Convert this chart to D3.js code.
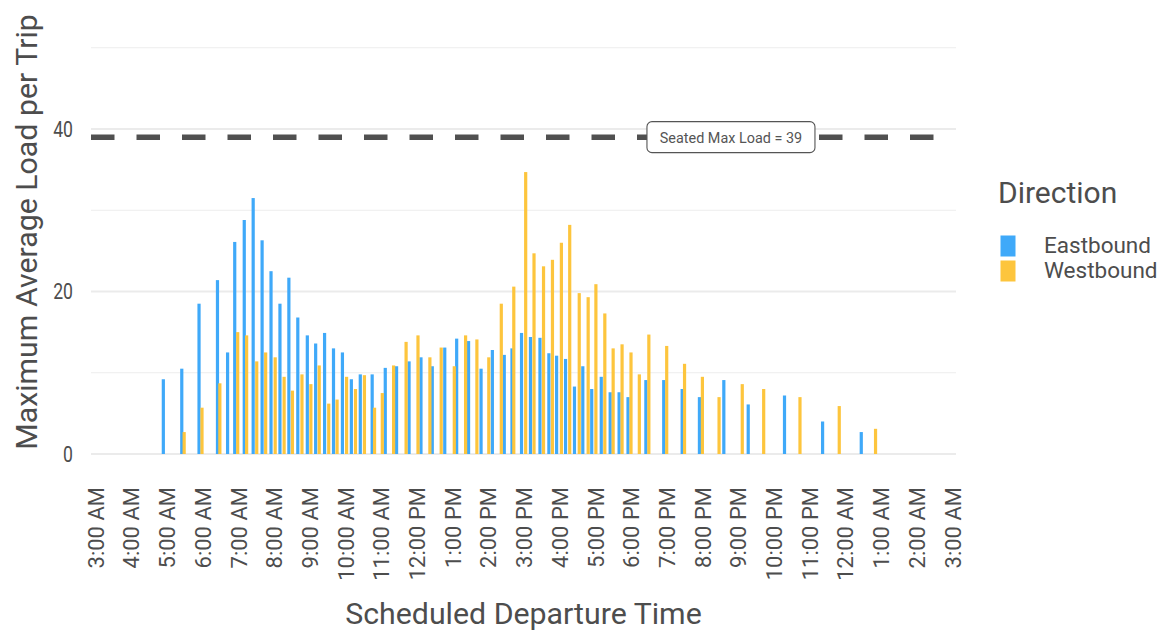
<!DOCTYPE html>
<html lang="en">
<head>
<meta charset="UTF-8">
<title>Maximum Average Load per Trip</title>
<script src="https://d3js.org/d3.v7.min.js"></script>
<style>
    body { margin: 0; background: #fff; font-family: Roboto, "Noto Sans", sans-serif; }
    .tick text { fill: #4d4d4d; }
</style>
</head>
<body>
<svg id="chart" width="1169" height="631"></svg>
<script>
    // departure times (24h, after midnight counts as next day) and max loads
    const eastTimes = ["04:54","05:25","05:54","06:25","06:42","06:54","07:10","07:25","07:40","07:55",
        "08:10","08:25","08:40","08:56","09:10","09:25","09:40","09:55","10:10","10:25",
        "10:45","11:07","11:26","11:47","12:07","12:26","12:47","13:07","13:27","13:48",
        "14:07","14:27","14:40","14:56","15:11","15:27","15:42","15:55","16:10","16:25",
        "16:39","16:54","17:10","17:25","17:40","17:55","18:25","18:55","19:26","19:55",
        "20:36","21:17","22:18","23:22","00:27"];
    const eastLoads = [9.2,10.5,18.5,21.4,12.5,26.1,28.8,31.5,26.3,22.5,
        18.5,21.7,16.8,14.6,13.6,14.9,13.0,12.5,9.2,9.8,
        9.8,10.6,10.8,11.4,11.9,10.8,13.1,14.2,13.9,10.5,
        12.8,12.2,13.0,14.9,14.4,14.3,12.4,12.1,11.7,8.3,
        10.8,8.0,9.5,7.6,7.6,7.0,9.1,9.1,8.0,7.0,
        9.1,6.1,7.2,4.0,2.7];

    const westTimes = ["05:29","05:59","06:29","06:59","07:14","07:31","07:46","08:02","08:17","08:31",
        "08:47","09:02","09:16","09:32","09:46","10:02","10:17","10:32","10:49","11:02",
        "11:21","11:42","12:02","12:22","12:41","13:03","13:22","13:41","14:01","14:22",
        "14:43","15:03","15:17","15:33","15:48","16:03","16:17","16:33","16:48","17:01",
        "17:16","17:30","17:45","18:00","18:14","18:30","19:00","19:30","20:00","20:28",
        "21:07","21:43","22:44","23:50","00:51"];
    const westLoads = [2.7,5.7,8.7,15.0,14.6,11.4,12.5,11.9,9.5,7.8,
        9.8,8.6,10.9,6.2,6.7,9.5,8.0,9.7,5.7,7.5,
        10.9,13.8,14.6,11.9,13.1,10.8,14.6,14.1,11.9,18.5,
        20.6,34.7,24.7,23.1,23.9,26.0,28.2,19.8,19.3,20.9,
        17.3,13.0,13.5,12.5,9.8,14.7,13.3,11.1,9.5,7.0,
        8.6,8.0,7.0,5.9,3.1];

    const directions = ["Eastbound", "Westbound"];
    const colors = ["#3fa9f9", "#fdc53d"];
    const yTicks = [0, 20, 40];
    const yMinor = [10, 30, 50];
    const seatedMax = 39;
    const labelTime = "20:48";

    const svg = d3.select("#chart");
    const parse = d3.timeParse("%H:%M");
    const toDate = s => {
        const d = parse(s);
        if (d.getHours() < 3) d.setDate(d.getDate() + 1);
        return d;
    };

    // the reference font is a narrow Roboto, so squeeze some text a bit
    function squeeze(sel, k) {
        sel.each(function () {
            const len = this.getComputedTextLength();
            d3.select(this).attr("textLength", len * k).attr("lengthAdjust", "spacingAndGlyphs");
        });
    }

    const start = parse("03:00");
    const end = d3.timeDay.offset(start, 1);
    const panel = {left: 91, right: 956};

    const x = d3.scaleTime().domain([start, end]).range([95.5, 952.3]);
    const y = d3.scaleLinear().domain([0, 40]).range([454, 129]);
    const color = d3.scaleOrdinal().domain(directions).range(colors);

    const data = [];
    eastTimes.forEach((t, i) => data.push({dir: "Eastbound", time: toDate(t), load: eastLoads[i]}));
    westTimes.forEach((t, i) => data.push({dir: "Westbound", time: toDate(t), load: westLoads[i]}));

    // grid
    svg.append("g").selectAll("line").data(yMinor).join("line")
        .attr("x1", panel.left).attr("x2", panel.right)
        .attr("y1", d => y(d)).attr("y2", d => y(d))
        .attr("stroke", "#ededed").attr("stroke-width", 1.1);
    svg.append("g").selectAll("line").data(yTicks).join("line")
        .attr("x1", panel.left).attr("x2", panel.right)
        .attr("y1", d => y(d)).attr("y2", d => y(d))
        .attr("stroke", "#ebebeb").attr("stroke-width", 2.2);

    // bars
    const barW = 3.2;
    svg.append("g").selectAll("rect").data(data).join("rect")
        .attr("x", d => x(d.time) - barW / 2)
        .attr("width", barW)
        .attr("y", d => y(d.load))
        .attr("height", d => y(0) - y(d.load))
        .attr("fill", d => color(d.dir));

    // seated max line
    svg.append("line")
        .attr("x1", panel.left).attr("x2", 940)
        .attr("y1", y(seatedMax)).attr("y2", y(seatedMax))
        .attr("stroke", "#505050").attr("stroke-width", 5.5)
        .attr("stroke-dasharray", "23.5 22");

    const lbl = svg.append("g")
        .attr("transform", `translate(${x(toDate(labelTime))},${y(seatedMax)})`);
    lbl.append("rect")
        .attr("x", -84).attr("y", -15.5)
        .attr("width", 168).attr("height", 31)
        .attr("rx", 5).attr("fill", "#fff")
        .attr("stroke", "#555").attr("stroke-width", 1.1);
    lbl.append("text")
        .attr("text-anchor", "middle").attr("dy", "0.36em")
        .attr("font-size", 15).attr("fill", "#555")
        .text("Seated Max Load = " + seatedMax)
        .call(squeeze, 0.96);

    // y axis
    const yAxis = svg.append("g")
        .attr("transform", `translate(${panel.left},0)`)
        .call(d3.axisLeft(y).tickValues(yTicks).tickSize(0).tickPadding(18));
    yAxis.select(".domain").remove();
    yAxis.selectAll("text").attr("font-size", 22).attr("font-family", "Roboto").call(squeeze, 0.8);

    // x axis
    const xAxis = svg.append("g")
        .attr("transform", `translate(0,${487})`)
        .call(d3.axisBottom(x).ticks(d3.timeHour.every(1)).tickFormat(d3.timeFormat("%-I:%M %p")).tickSize(0));
    xAxis.select(".domain").remove();
    xAxis.selectAll("text")
        .attr("font-size", 22).attr("font-family", "Roboto")
        .attr("transform", "rotate(-90)")
        .attr("text-anchor", "end")
        .attr("x", 0).attr("y", 0)
        .attr("dy", "0.35em");

    // titles
    svg.append("text")
        .attr("transform", "translate(37,232) rotate(-90)")
        .attr("text-anchor", "middle")
        .attr("font-size", 30.3).attr("fill", "#4d4d4d")
        .text("Maximum Average Load per Trip");
    svg.append("text")
        .attr("x", 523.5).attr("y", 624)
        .attr("text-anchor", "middle")
        .attr("font-size", 30.3).attr("fill", "#4d4d4d")
        .text("Scheduled Departure Time");

    // legend
    const legend = svg.append("g").attr("transform", "translate(998,0)");
    legend.append("text")
        .attr("x", 0).attr("y", 203)
        .attr("font-size", 30).attr("fill", "#4d4d4d")
        .text("Direction");
    const item = legend.selectAll("g.item").data(directions).join("g")
        .attr("class", "item")
        .attr("transform", (d, i) => `translate(0,${235.5 + i * 25})`);
    item.append("rect")
        .attr("x", 2.5).attr("width", 15).attr("height", 21)
        .attr("fill", d => color(d));
    item.append("text")
        .attr("x", 46).attr("y", 17.5)
        .attr("font-size", 22.5).attr("fill", "#4d4d4d")
        .text(d => d);
</script>
</body>
</html>
